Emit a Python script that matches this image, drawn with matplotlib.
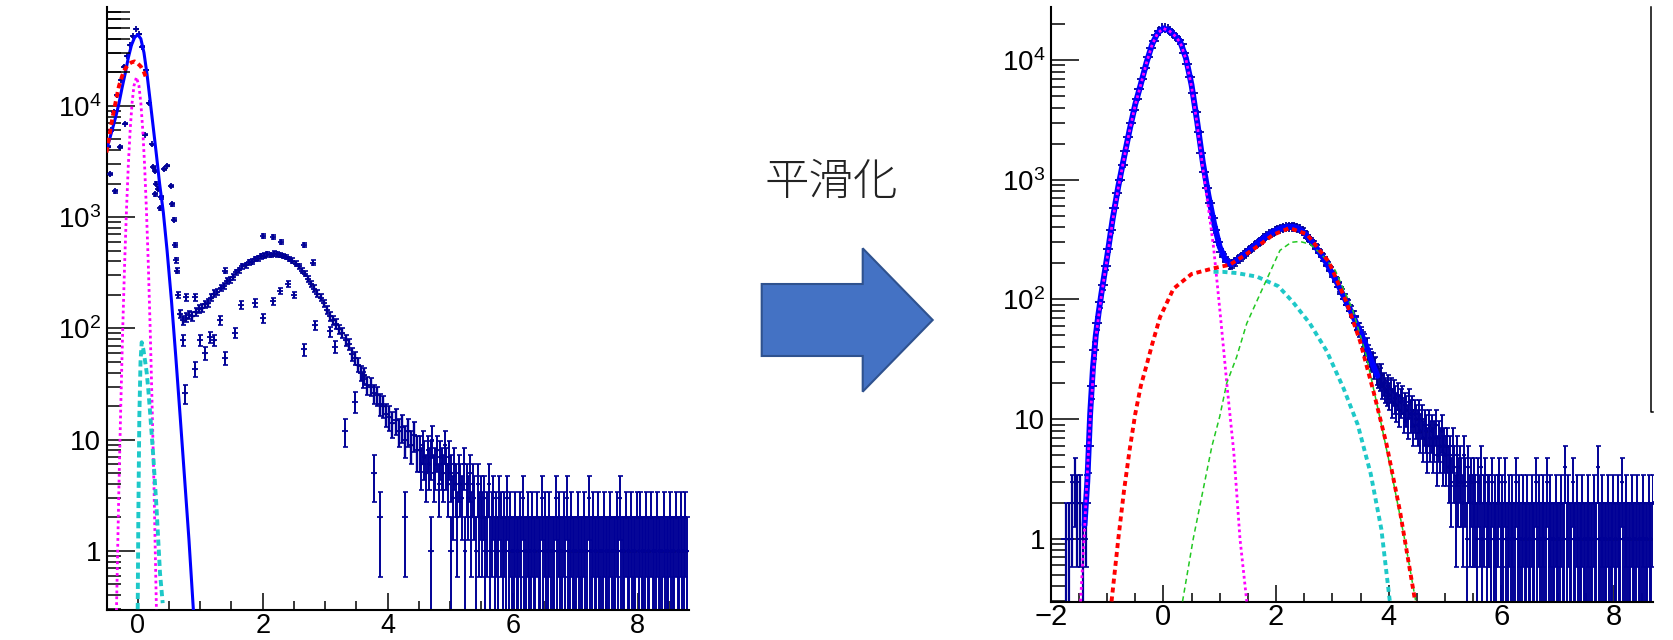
import numpy as np
import matplotlib
matplotlib.use('Agg')
import matplotlib.pyplot as plt
from matplotlib.patches import Polygon
from matplotlib.lines import Line2D
from matplotlib.ticker import FixedLocator, MultipleLocator, NullFormatter, LogLocator
from matplotlib.transforms import blended_transform_factory

plt.rcParams['font.family'] = ['Liberation Sans', 'DejaVu Sans']
plt.rcParams['mathtext.fontset'] = 'custom'
plt.rcParams['mathtext.rm'] = 'Liberation Sans'
plt.rcParams['mathtext.it'] = 'Liberation Sans:italic'
plt.rcParams['mathtext.bf'] = 'Liberation Sans:bold'

# ---------------- data: raw histogram (left) ----------------
# core: bins of 0.05 from -0.5 to 4.5
left_core_start, left_core_width = -0.5, 0.05
left_core_counts = [
    4300, 6000, 8800, 12500, 17000, 22500, 28000, 35000, 42000, 49000,
    44000, 34000, 21000, 10500, 4500, 2600, 1800, 1500, 2700, 2900,
    1900, 950, 330, 135, 118, 125, 132, 128, 140, 150,
    152, 165, 170, 188, 205, 212, 232, 240, 265, 272,
    290, 318, 332, 360, 368, 392, 398, 420, 425, 445,
    450, 462, 455, 470, 462, 458, 448, 438, 420, 405,
    382, 360, 330, 310, 280, 252, 228, 205, 188, 168,
    146, 128, 118, 110, 98, 91, 78, 72, 59, 54,
    47, 40, 38, 31, 30, 26, 25, 21, 20, 17,
    16, 14, 15, 12, 13, 10, 12, 9, 11, 8,
]
# tail: bins of 0.025 from 4.5 to 8.8
left_tail_start, left_tail_width = 4.5, 0.025
left_tail_counts = [
    8, 6, 9, 7, 5, 8, 6, 7, 10, 5, 6, 8, 4, 7, 6, 5, 9, 6, 4, 7,
    5, 3, 6, 4, 2, 5, 4, 3, 6, 1, 4, 3, 5, 2, 4, 3, 1, 4, 2, 3,
    2, 3, 1, 2, 4, 1, 2, 3, 1, 2, 1, 3, 2, 1, 2, 1, 3, 1, 2, 1,
    1, 2, 1, 1, 2, 1, 3, 1, 1, 2, 1, 1, 2, 1, 1, 2, 1, 1, 3, 1,
    2, 1, 1, 2, 1, 1, 1, 3, 1, 2, 1, 1, 2, 1, 3, 1, 1, 2, 1, 1,
    1, 2, 1, 1, 1, 2, 1, 1, 3, 1, 1, 2, 1, 1, 2, 1, 1, 1, 2, 1,
    1, 1, 2, 1, 1, 1, 2, 1, 3, 1, 1, 1, 2, 1, 1, 2, 1, 1, 1, 2,
    1, 2, 1, 1, 1, 2, 1, 1, 2, 1, 1, 1, 2, 1, 1, 1, 2, 1, 1, 1,
    2, 1, 1, 1, 2, 1, 1, 2, 1, 1, 2, 1,
]
# scattered bins off the main band
left_extra_x = [-0.44, -0.36, -0.28, -0.2, 0.12, 0.24, 0.28, 0.3, 0.35, 0.55,
                0.6, 0.615, 0.645, 0.73, 0.76, 0.77, 0.92, 0.92, 0.99, 1.08,
                1.16, 1.22, 1.32, 1.40, 1.40, 1.55, 1.65, 1.87, 2.01, 2.01,
                2.17, 2.17, 2.27, 2.3, 2.4, 2.5, 2.66, 2.66, 2.81, 2.84,
                3.08, 3.15, 3.31, 3.47, 3.6, 3.78, 3.88, 4.27, 4.7, 5.02]
left_extra_counts = [2450, 1700, 4250, 6900, 5500, 2800, 1600, 2000, 1200, 1300,
                     560, 410, 200, 79, 26, 190, 43, 190, 79, 60,
                     83, 79, 118, 54, 330, 91, 162, 170, 123, 680,
                     175, 660, 218, 600, 250, 200, 65, 560, 390, 107,
                     94, 68, 12, 22, 35, 5, 2, 2, 1, 1]

# fit curves (left)
left_blue_x = [-0.5, -0.45, -0.4, -0.35, -0.3, -0.25, -0.2, -0.15, -0.1, -0.05, 0.0,
               0.05, 0.1, 0.15, 0.2, 0.25, 0.3, 0.35, 0.41, 0.47, 0.54, 0.61, 0.68,
               0.75, 0.82, 0.89]
left_blue_y = [4000, 5000, 6300, 8000, 10500, 14500, 19500, 27000, 35000, 41000, 43500,
               40000, 30000, 19000, 11000, 6300, 3600, 2000, 1100, 500, 178, 55, 16,
               4.5, 1.26, 0.3]
left_red_x = [-0.5, -0.45, -0.4, -0.35, -0.3, -0.25, -0.2, -0.15, -0.1, -0.05, 0.0,
              0.05, 0.1, 0.14]
left_red_y = [3800, 5500, 8000, 11000, 15000, 18500, 21500, 23500, 24500, 25000, 24000,
              22500, 20000, 17500]
left_magenta_x = [-0.34, -0.3, -0.27, -0.24, -0.21, -0.18, -0.15, -0.12, -0.09, -0.06,
                  -0.02, 0.02, 0.05, 0.08, 0.11, 0.14, 0.17, 0.2, 0.23, 0.26, 0.3]
left_magenta_y = [0.29, 3.9, 21, 97, 370, 1140, 2950, 6150, 10600, 15100,
                  18000, 15100, 10600, 6150, 2950, 1140, 370, 97, 21, 3.9, 0.29]
left_cyan_x = [0.0, 0.01, 0.026, 0.045, 0.064, 0.09, 0.12, 0.144, 0.17, 0.2, 0.25,
               0.3, 0.357, 0.4]
left_cyan_y = [0.3, 2, 16, 50, 75, 65, 50, 40, 28, 17, 7, 2.5, 0.63, 0.34]

# ---------------- data: smoothed histogram (right) ----------------
# core: bins of 0.05 from -2.0 to 3.5
right_core_start, right_core_width = -2.0, 0.05
right_core_counts = [
    0, 0, 0, 0, 0, 1, 1, 2, 3, 2,
    2, 1, 2, 6, 19, 38, 63, 95, 132, 190,
    263, 380, 580, 780, 1000, 1320, 1740, 2290, 2950, 3800,
    4680, 5750, 6900, 8500, 10500, 12600, 14450, 16200, 17600, 18400,
    18400, 18000, 17400, 16600, 15500, 14800, 13500, 11500, 9300, 7200,
    5250, 3700, 2500, 1660, 1150, 850, 640, 480, 380, 300,
    250, 225, 205, 195, 198, 206, 216, 226, 236, 246,
    258, 270, 284, 297, 310, 323, 336, 349, 360, 371,
    382, 390, 397, 402, 405, 406, 403, 396, 385, 372,
    347, 327, 309, 288, 266, 245, 226, 209, 190, 172,
    155, 140, 126, 112, 100, 90, 80, 72, 63, 56,
]
# tail: bins of 0.025 from 3.5 to 8.7
right_tail_start, right_tail_width = 3.5, 0.025
right_tail_counts = [
    52, 47, 45, 40, 41, 36, 33, 31, 30, 27, 28, 24, 23, 22, 24, 19, 20, 18, 17, 19,
    16, 18, 14, 17, 15, 13, 16, 12, 14, 15, 11, 13, 12, 10, 14, 11, 12, 9, 11, 10,
    9, 11, 8, 10, 7, 9, 8, 6, 9, 7, 8, 6, 7, 9, 5, 7, 6, 8, 5, 6,
    5, 6, 4, 5, 3, 6, 4, 2, 5, 3, 4, 3, 2, 5, 3, 1, 4, 2, 3, 2,
    3, 2, 1, 3, 2, 4, 1, 2, 3, 1, 2, 2, 1, 3, 1, 2, 1, 2, 3, 1,
    2, 1, 3, 1, 1, 2, 1, 2, 1, 1, 3, 1, 2, 1, 1, 2, 1, 1, 2, 1,
    1, 2, 1, 1, 3, 1, 2, 1, 1, 2, 1, 1, 3, 1, 2, 1, 1, 1, 2, 1,
    1, 1, 2, 1, 1, 4, 1, 2, 1, 1, 3, 1, 1, 2, 1, 1, 1, 2, 1, 1,
    1, 2, 1, 1, 1, 2, 1, 1, 4, 1, 1, 2, 1, 1, 1, 2, 1, 1, 1, 2,
    1, 1, 2, 1, 1, 3, 1, 1, 2, 1, 1, 1, 2, 1, 1, 1, 2, 1, 1, 1,
    2, 1, 1, 1, 2, 1, 1, 2,
]

right_blue_x = [-1.40, -1.35, -1.30, -1.25, -1.20, -1.15, -1.10, -1.0, -0.9, -0.8,
                -0.7, -0.6, -0.5, -0.4, -0.3, -0.2, -0.1, 0.0, 0.1, 0.2,
                0.3, 0.4, 0.5, 0.6, 0.7, 0.8, 0.9, 1.0, 1.1, 1.2,
                1.3, 1.4, 1.5, 1.6, 1.7, 1.8, 1.9, 2.0, 2.1, 2.2,
                2.3, 2.4, 2.5, 2.6, 2.7, 2.8, 2.9, 3.0, 3.1, 3.2,
                3.3, 3.4, 3.5, 3.6, 3.7, 3.8]
right_blue_y = [1.3, 3, 11, 27, 50, 77, 112, 225, 470, 880,
                1520, 2600, 4250, 6300, 9500, 13500, 16900, 18400, 17700, 16100,
                14200, 10400, 6200, 3050, 1400, 740, 430, 275, 215, 196,
                211, 231, 252, 277, 303, 330, 355, 377, 394, 404,
                405, 391, 360, 318, 277, 236, 200, 163, 133, 106,
                85, 67, 53, 41, 30, 23]
right_magenta_x = [-1.47, -1.40, -1.30, -1.20, -1.10, -1.0, -0.9, -0.8, -0.7, -0.6,
                   -0.5, -0.4, -0.3, -0.2, -0.1, 0.0, 0.1, 0.2, 0.3, 0.4,
                   0.5, 0.6, 0.7, 0.8, 0.89, 0.95, 1.01, 1.07, 1.13, 1.19,
                   1.25, 1.36, 1.48]
right_magenta_y = [0.3, 1.2, 10, 48, 108, 218, 455, 860, 1490, 2560,
                   4200, 6250, 9450, 13400, 16800, 18300, 17600, 16000, 14000, 10200,
                   6000, 2900, 1250, 580, 275, 145, 75, 38, 19, 10,
                   5.3, 1.0, 0.3]
right_red_x = [-0.92, -0.8, -0.7, -0.6, -0.5, -0.4, -0.3, -0.2, -0.06, 0.18,
               0.5, 0.89, 1.18, 1.42, 1.57, 1.75, 1.95, 2.24, 2.55, 2.94,
               3.25, 3.49, 3.73, 3.96, 4.2, 4.47]
right_red_y = [0.3, 1.0, 2.5, 5.5, 11, 19, 28, 42, 71, 123,
               163, 182, 195, 230, 257, 295, 347, 395, 350, 205,
               95, 45, 17, 6.2, 1.7, 0.3]
right_cyan_x = [0.89, 1.05, 1.3, 1.66, 2.04, 2.3, 2.6, 2.9, 3.2, 3.45, 3.68, 3.87, 4.02]
right_cyan_y = [170, 170, 166, 155, 129, 95, 63, 37, 18, 9, 3.5, 1.2, 0.3]
right_green_x = [0.34, 0.53, 0.86, 1.0, 1.125, 1.3, 1.48, 1.72, 2.07, 2.27,
                 2.42, 2.6, 2.8, 3.05, 3.36, 3.6, 3.83, 4.07, 4.3, 4.48]
right_green_y = [0.3, 1.0, 5.9, 10.5, 20, 33, 63, 112, 257, 300,
                 305, 290, 240, 175, 82, 34, 11, 3.2, 0.9, 0.3]

arrow_label = '平滑化'

# ---------------- drawing ----------------
W, H = 1673, 640
NAVY = '#000096'
BLUE = '#0000ff'
RED = '#ff0000'
MAGENTA = '#ff00ff'
CYAN = '#1ec8c8'
GREEN = '#22c822'


def rect(x0, x1, ytop, ybot):
    # pixel box (y measured from the top) -> figure fractions
    return [x0 / W, 1 - ybot / H, (x1 - x0) / W, (ybot - ytop) / H]


def centers(start, width, counts):
    return start + width * (np.arange(len(counts)) + 0.5)


def draw_hist(ax, x, counts, width, ms, elw=1.5):
    x = np.asarray(x, float)
    n = np.asarray(counts, float)
    keep = n > 0
    x, n = x[keep], n[keep]
    err = np.sqrt(n)
    lower = np.minimum(err, n * 0.9999)
    ax.errorbar(x, n, yerr=[lower, err], fmt='none', ecolor=NAVY,
                elinewidth=elw, capsize=1.8, capthick=1.2, zorder=2)
    ax.hlines(n, x - width / 2, x + width / 2, colors='black', lw=1.0, zorder=3)
    ax.plot(x, n, '+', color=NAVY, ms=ms, mew=1.3, zorder=3)


def style(ax, xlim, ylim, xsize, ysize, xpad):
    ax.set_yscale('log')
    ax.set_xlim(*xlim)
    ax.set_ylim(*ylim)
    for s in ('top', 'right'):
        ax.spines[s].set_visible(False)
    for s in ('left', 'bottom'):
        ax.spines[s].set_linewidth(1.5)
    ax.yaxis.set_major_locator(FixedLocator([1, 10, 100, 1000, 10000]))
    ax.set_yticklabels(['1', '10', '$10^{2}$', '$10^{3}$', '$10^{4}$'])
    ax.yaxis.set_minor_locator(LogLocator(base=10, subs=np.arange(2, 10), numticks=30))
    ax.yaxis.set_minor_formatter(NullFormatter())
    ax.xaxis.set_major_locator(MultipleLocator(2))
    ax.xaxis.set_minor_locator(MultipleLocator(0.5))
    ax.tick_params(axis='y', which='major', direction='in', length=20.5, width=1.1,
                   labelsize=ysize, pad=4)
    ax.tick_params(axis='y', which='minor', direction='in', length=10, width=1.1)
    ax.tick_params(axis='x', which='major', direction='in', length=12.5, width=1.1,
                   labelsize=xsize, pad=xpad)
    ax.tick_params(axis='x', which='minor', direction='in', length=6.5, width=1.1)
    ax.set_facecolor('none')


fig = plt.figure(figsize=(W / 100, H / 100), dpi=100)

# left panel
axl = fig.add_axes(rect(106.7, 689, 7.3, 610))
draw_hist(axl, centers(left_core_start, left_core_width, left_core_counts),
          left_core_counts, left_core_width, 4.5, elw=1.7)
draw_hist(axl, centers(left_tail_start, left_tail_width, left_tail_counts),
          left_tail_counts, left_tail_width, 3.5, elw=1.4)
draw_hist(axl, left_extra_x, left_extra_counts, 0.025, 4.5, elw=1.4)
axl.plot(left_magenta_x, left_magenta_y, color=MAGENTA, lw=2.0, dashes=(1, 1.1), zorder=4)
axl.plot(left_cyan_x, left_cyan_y, color=CYAN, lw=2.8, dashes=(1.6, 1.0), zorder=4)
axl.plot(left_blue_x, left_blue_y, color=BLUE, lw=2.2, zorder=5)
axl.plot(left_red_x, left_red_y, color=RED, lw=2.8, dashes=(1.4, 1.0), zorder=5)
style(axl, (-0.496, 8.82), (0.295, 76600), 19.5, 20, 2.5)
# ROOT draws the minor ticks of the top decade longer here
tr = blended_transform_factory(axl.transAxes, axl.transData)
axl.hlines([2e4, 3e4, 4e4, 5e4, 6e4, 7e4], 0, 23 / 582.3, transform=tr,
           colors='black', lw=1.1, zorder=6)

# right panel
axr = fig.add_axes(rect(1050.7, 1652.7, 7.3, 601.7))
draw_hist(axr, centers(right_core_start, right_core_width, right_core_counts),
          right_core_counts, right_core_width, 7, elw=1.6)
draw_hist(axr, centers(right_tail_start, right_tail_width, right_tail_counts),
          right_tail_counts, right_tail_width, 3.5, elw=1.4)
axr.plot(right_blue_x, right_blue_y, color=BLUE, lw=4.2, zorder=4, solid_capstyle='round')
axr.plot(right_magenta_x, right_magenta_y, color=MAGENTA, lw=2.0, dashes=(1, 1.1), zorder=5)
axr.plot(right_cyan_x, right_cyan_y, color=CYAN, lw=2.8, dashes=(1.3, 1.0), zorder=5)
axr.plot(right_green_x, right_green_y, color=GREEN, lw=1.1, dashes=(3.4, 2.4), zorder=5)
axr.plot(right_red_x, right_red_y, color=RED, lw=2.8, dashes=(1.3, 1.0), zorder=6)
style(axr, (-2.0, 8.686), (0.2985, 27550), 21, 20, 1.0)

# edge of a box cut off at the right border
fig.add_artist(Line2D([1650.7 / W, 1650.7 / W, 1653 / W],
                      [1 - 7.3 / H, 1 - 411.7 / H, 1 - 411.7 / H],
                      transform=fig.transFigure, color='black', lw=1.1))

# block arrow in the middle
pts = [(761.7, 284), (862.7, 284), (862.7, 248.3), (932.7, 320),
       (862.7, 391.7), (862.7, 356), (761.7, 356)]
fig.add_artist(Polygon([(x / W, 1 - y / H) for x, y in pts], closed=True,
                       transform=fig.transFigure, facecolor='#4472c4',
                       edgecolor='#2f528f', lw=1.5))
fig.text(831 / W, 1 - 182 / H, arrow_label, ha='center', va='center', fontsize=32,
         family=['Noto Sans CJK JP', 'DejaVu Sans'], weight='light', color='#222222')

fig.savefig('out.png', dpi=100)
